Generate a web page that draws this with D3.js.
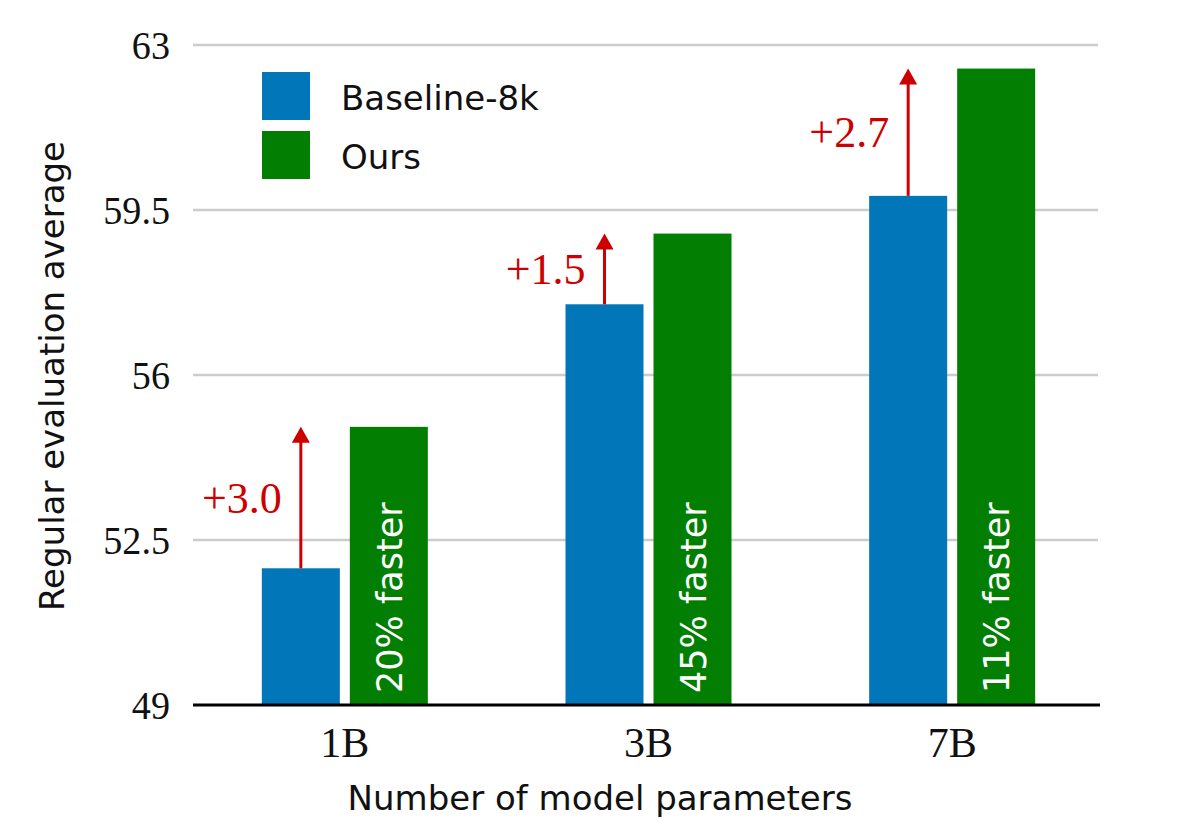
<!DOCTYPE html>
<html>
<head>
<meta charset="utf-8">
<script src="https://cdn.jsdelivr.net/npm/d3@7"></script>
<style>
html,body{margin:0;padding:0;background:#fff;}
svg{display:block;}
</style>
</head>
<body>
<svg id="chart" width="1179" height="828"></svg>
<script>
// ---- data ----
const categories = ["1B", "3B", "7B"];
const seriesNames = ["Baseline-8k", "Ours"];
const baselineValues = [51.9, 57.5, 59.8];
const oursValues = [54.9, 59.0, 62.5];
const gainLabels = ["+3.0", "+1.5", "+2.7"];
const speedLabels = ["20% faster", "45% faster", "11% faster"];
const yTicks = [49, 52.5, 56, 59.5, 63];

// ---- styles ----
const colors = {"Baseline-8k": "#0176b8", "Ours": "#027f02"};
const red = "#cc0000";
const serif = "'Liberation Serif','Times New Roman',serif";
const sans = "'DejaVu Sans',sans-serif";

const svg = d3.select("#chart");
const x = d3.scaleBand().domain(categories).range([193, 1104]).padding(0);
const y = d3.scaleLinear().domain([49, 63]).range([705, 45]);
const barW = 78, gap = 10;
const sub = d3.scaleOrdinal().domain(seriesNames).range([-gap/2 - barW, gap/2]);

// gridlines
svg.append("g").selectAll("line").data(yTicks.slice(1)).join("line")
  .attr("x1", 193).attr("x2", 1098)
  .attr("y1", d => y(d)).attr("y2", d => y(d))
  .attr("stroke", "#cccccc").attr("stroke-width", 2.5);

// y tick labels
const yAxis = d3.axisLeft(y).tickValues(yTicks).tickSize(0).tickPadding(0)
  .tickFormat(d => d3.format("")(d));
const gy = svg.append("g").attr("transform", "translate(170,0)").call(yAxis);
gy.select(".domain").remove();
gy.selectAll("text").attr("font-family", serif).attr("font-size", 41)
  .attr("fill", "#111").attr("dy", "0.34em")
  .each(function() {
    const w = this.getComputedTextLength();
    d3.select(this).attr("textLength", w * 0.93).attr("lengthAdjust", "spacingAndGlyphs");
  });

// bars
const rows = categories.map((c, i) => ({cat: c, vals: [
  {s: seriesNames[0], v: baselineValues[i]},
  {s: seriesNames[1], v: oursValues[i]}]}));
const groups = svg.append("g").selectAll("g").data(rows).join("g")
  .attr("transform", d => `translate(${x(d.cat) + x.bandwidth()/2},0)`);
groups.selectAll("rect").data(d => d.vals).join("rect")
  .attr("x", d => sub(d.s)).attr("width", barW)
  .attr("y", d => y(d.v)).attr("height", d => y(49) - y(d.v))
  .attr("fill", d => colors[d.s]);

// in-bar speed labels
groups.append("text")
  .attr("transform", (d) => `translate(${gap/2 + barW/2 + 13},${y(49) - 12}) rotate(-90)`)
  .attr("font-family", sans).attr("font-size", 35).attr("fill", "#fff")
  .text((d, i) => speedLabels[i]);

// arrows
groups.append("line")
  .attr("x1", -gap/2 - barW/2).attr("x2", -gap/2 - barW/2)
  .attr("y1", (d, i) => y(baselineValues[i]))
  .attr("y2", (d, i) => y(oursValues[i]) + 8)
  .attr("stroke", red).attr("stroke-width", 3);
groups.append("path")
  .attr("d", (d, i) => {
    const cx = -gap/2 - barW/2, ty = y(oursValues[i]);
    return `M${cx},${ty} L${cx - 9},${ty + 16} L${cx + 9},${ty + 16} Z`;
  })
  .attr("fill", red);
groups.append("text")
  .attr("x", -gap/2 - barW/2 - 19)
  .attr("y", (d, i) => (y(baselineValues[i]) + y(oursValues[i])) / 2 + 15)
  .attr("text-anchor", "end")
  .attr("font-family", serif).attr("font-size", 44).attr("fill", red)
  .text((d, i) => gainLabels[i]);

// x axis line and labels
svg.append("line").attr("x1", 193).attr("x2", 1100)
  .attr("y1", y(49)).attr("y2", y(49))
  .attr("stroke", "#000").attr("stroke-width", 3);
const xAxis = d3.axisBottom(x).tickSize(0).tickPadding(0);
const gx = svg.append("g").attr("transform", `translate(0,${y(49)})`).call(xAxis);
gx.select(".domain").remove();
gx.selectAll("text").attr("font-family", serif).attr("font-size", 42)
  .attr("fill", "#111").attr("dy", null).attr("y", 52);

// axis titles
svg.append("text").attr("x", 600).attr("y", 810).attr("text-anchor", "middle")
  .attr("font-family", sans).attr("font-size", 34).attr("fill", "#111")
  .text("Number of model parameters");
svg.append("text").attr("transform", "translate(64,376) rotate(-90)")
  .attr("text-anchor", "middle")
  .attr("font-family", sans).attr("font-size", 34).attr("fill", "#111")
  .text("Regular evaluation average");

// legend
const legend = svg.append("g").selectAll("g").data(seriesNames).join("g")
  .attr("transform", (d, i) => `translate(262,${72 + i * 59})`);
legend.append("rect").attr("width", 48).attr("height", 48).attr("fill", d => colors[d]);
legend.append("text").attr("x", 79).attr("y", 38)
  .attr("font-family", sans).attr("font-size", 34).attr("fill", "#111")
  .text(d => d);
</script>
</body>
</html>
